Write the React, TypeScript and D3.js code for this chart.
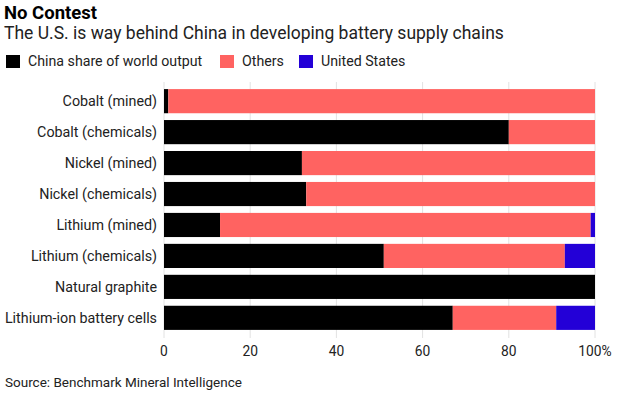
import * as React from 'react';
import { scaleLinear, scaleBand, stack } from 'd3';

const categories = [
  'Cobalt (mined)',
  'Cobalt (chemicals)',
  'Nickel (mined)',
  'Nickel (chemicals)',
  'Lithium (mined)',
  'Lithium (chemicals)',
  'Natural graphite',
  'Lithium-ion battery cells',
];
const china = [1, 80, 32, 33, 13, 51, 100, 67];
const others = [99, 20, 68, 67, 86, 42, 0, 24];
const us = [0, 0, 0, 0, 1, 7, 0, 9];

const seriesNames = ['China share of world output', 'Others', 'United States'];
const seriesColors = ['#000000', '#ff6361', '#2300d7'];
const xTicks = [0, 20, 40, 60, 80, 100];

const W = 618;
const H = 396;
const FONT = 'Roboto, "Liberation Sans", Arial, sans-serif';

export default function App() {
  const rows = categories.map((c, i) => ({ cat: c, china: china[i], others: others[i], us: us[i] }));
  const layers = stack<any>().keys(['china', 'others', 'us'])(rows);

  const x = scaleLinear().domain([0, 100]).range([164, 595]);
  const y = scaleBand().domain(categories).range([86, 333]).paddingInner(0.22).paddingOuter(0.1);

  // legend swatch positions
  const legendX = [6, 220, 299];

  return (
    <svg width={W} height={H} style={{ position: 'absolute', left: 0, top: 0, background: '#fff' }} fontFamily={FONT}>
      <text x={4} y={18.5} fontSize={18.5} fontWeight={700} fill="#000">No Contest</text>
      <text x={4} y={39} fontSize={17.5} fill="#222">The U.S. is way behind China in developing battery supply chains</text>

      {seriesNames.map((name, i) => (
        <g key={name}>
          <rect x={legendX[i]} y={55} width={14} height={13} fill={seriesColors[i]} />
          <text x={legendX[i] + 22} y={66} fontSize={14.2} fill="#222">{name}</text>
        </g>
      ))}

      {xTicks.map(t => (
        <line key={t} x1={x(t)} x2={x(t)} y1={82} y2={338} stroke="#e2e2e2" strokeWidth={1} />
      ))}

      {layers.map((layer, li) => (
        <g key={layer.key} fill={seriesColors[li]}>
          {layer.map((d, i) => (
            d[1] - d[0] > 0 ? (
              <rect key={i} x={x(d[0])} y={y(categories[i])} width={x(d[1]) - x(d[0])} height={y.bandwidth()} />
            ) : null
          ))}
        </g>
      ))}

      {categories.map(c => (
        <text key={c} x={157} y={(y(c) ?? 0) + y.bandwidth() / 2} dy="0.35em" textAnchor="end" fontSize={14.3} fill="#222">{c}</text>
      ))}

      {xTicks.map(t => (
        <text key={t} x={x(t)} y={356} textAnchor="middle" fontSize={13.8} fill="#222">{t === 100 ? '100%' : t}</text>
      ))}

      <text x={5} y={387} fontSize={13.5} fill="#222">Source: Benchmark Mineral Intelligence</text>
    </svg>
  );
}
